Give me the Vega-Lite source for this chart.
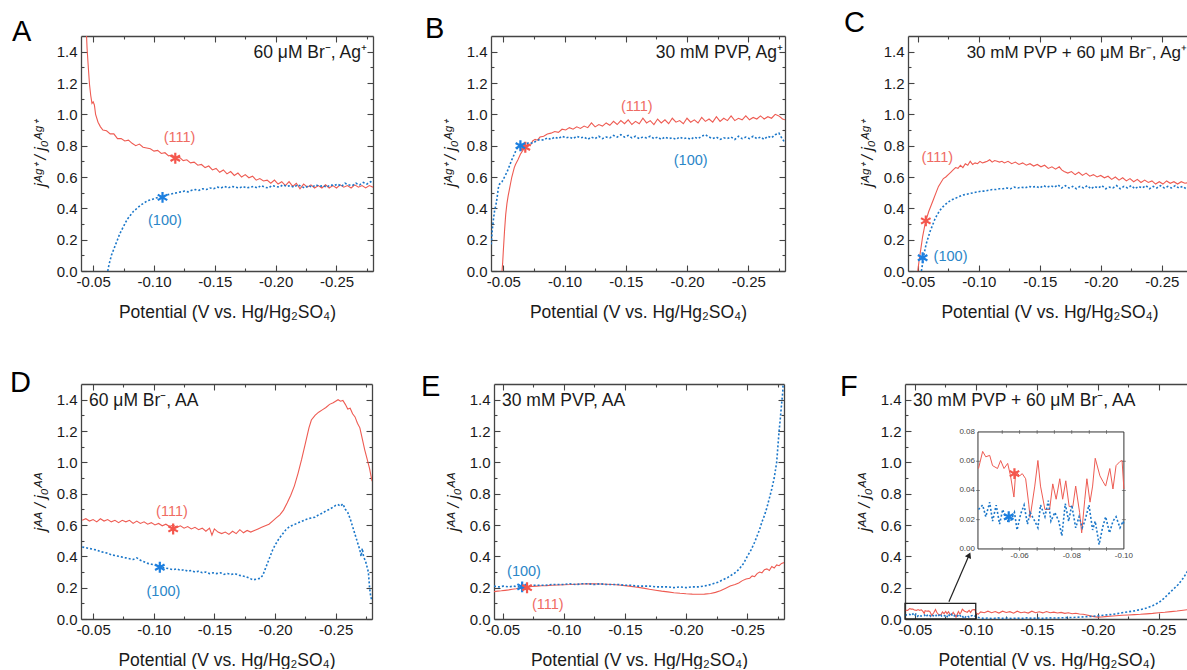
{
"$schema":"https://vega.github.io/schema/vega-lite/v6.json",
"padding":{"left":10,"top":9,"right":0,"bottom":0},
"config":{"font":"Liberation Sans","view":{"stroke":null},
"axis":{"labelFont":"Liberation Sans","titleFont":"Liberation Sans","labelFontSize":15,"titleFontSize":17.5,"titleFontWeight":"normal","domainColor":"#444","domainWidth":1.3,"tickColor":"#444","tickWidth":1.1,"labelColor":"#1a1a1a","titleColor":"#1a1a1a","grid":false},
"axisX":{"labelPadding":9,"titlePadding":14},
"axisY":{"titleFontStyle":"italic","titleFontSize":16,"labelPadding":10,"titlePadding":8},
"title":{"font":"Liberation Sans","fontSize":29,"fontWeight":"normal","anchor":"start","frame":"group","baseline":"alphabetic","color":"#000"},
"text":{"font":"Liberation Sans"}},
"datasets":{
"A":[{"s":"111","x":-0.044,"y":1.6},{"s":"111","x":-0.045,"y":1.42},{"s":"111","x":-0.046,"y":1.3},{"s":"111","x":-0.047,"y":1.19},{"s":"111","x":-0.048,"y":1.12},{"s":"111","x":-0.049,"y":1.07},{"s":"111","x":-0.05,"y":1.08},{"s":"111","x":-0.051,"y":1.06},{"s":"111","x":-0.052,"y":1.0},{"s":"111","x":-0.054,"y":0.95},{"s":"111","x":-0.056,"y":0.92},{"s":"111","x":-0.058,"y":0.9},{"s":"111","x":-0.061,"y":0.895},{"s":"111","x":-0.064,"y":0.875},{"s":"111","x":-0.067,"y":0.875},{"s":"111","x":-0.07,"y":0.845},{"s":"111","x":-0.073,"y":0.845},{"s":"111","x":-0.076,"y":0.83},{"s":"111","x":-0.079,"y":0.835},{"s":"111","x":-0.082,"y":0.815},{"s":"111","x":-0.085,"y":0.8},{"s":"111","x":-0.088,"y":0.81},{"s":"111","x":-0.091,"y":0.79},{"s":"111","x":-0.094,"y":0.785},{"s":"111","x":-0.097,"y":0.78},{"s":"111","x":-0.1,"y":0.765},{"s":"111","x":-0.103,"y":0.77},{"s":"111","x":-0.106,"y":0.75},{"s":"111","x":-0.109,"y":0.755},{"s":"111","x":-0.112,"y":0.735},{"s":"111","x":-0.115,"y":0.74},{"s":"111","x":-0.118,"y":0.72},{"s":"111","x":-0.121,"y":0.725},{"s":"111","x":-0.124,"y":0.705},{"s":"111","x":-0.127,"y":0.71},{"s":"111","x":-0.13,"y":0.69},{"s":"111","x":-0.133,"y":0.695},{"s":"111","x":-0.136,"y":0.675},{"s":"111","x":-0.139,"y":0.68},{"s":"111","x":-0.142,"y":0.66},{"s":"111","x":-0.145,"y":0.67},{"s":"111","x":-0.148,"y":0.645},{"s":"111","x":-0.151,"y":0.655},{"s":"111","x":-0.154,"y":0.63},{"s":"111","x":-0.157,"y":0.645},{"s":"111","x":-0.16,"y":0.62},{"s":"111","x":-0.163,"y":0.635},{"s":"111","x":-0.166,"y":0.61},{"s":"111","x":-0.169,"y":0.625},{"s":"111","x":-0.172,"y":0.6},{"s":"111","x":-0.175,"y":0.615},{"s":"111","x":-0.178,"y":0.595},{"s":"111","x":-0.181,"y":0.605},{"s":"111","x":-0.184,"y":0.58},{"s":"111","x":-0.187,"y":0.59},{"s":"111","x":-0.19,"y":0.575},{"s":"111","x":-0.193,"y":0.58},{"s":"111","x":-0.196,"y":0.56},{"s":"111","x":-0.199,"y":0.58},{"s":"111","x":-0.202,"y":0.555},{"s":"111","x":-0.205,"y":0.57},{"s":"111","x":-0.208,"y":0.545},{"s":"111","x":-0.211,"y":0.57},{"s":"111","x":-0.214,"y":0.54},{"s":"111","x":-0.217,"y":0.56},{"s":"111","x":-0.22,"y":0.525},{"s":"111","x":-0.223,"y":0.555},{"s":"111","x":-0.226,"y":0.535},{"s":"111","x":-0.229,"y":0.55},{"s":"111","x":-0.232,"y":0.53},{"s":"111","x":-0.235,"y":0.545},{"s":"111","x":-0.238,"y":0.53},{"s":"111","x":-0.241,"y":0.55},{"s":"111","x":-0.244,"y":0.53},{"s":"111","x":-0.247,"y":0.545},{"s":"111","x":-0.25,"y":0.53},{"s":"111","x":-0.253,"y":0.55},{"s":"111","x":-0.256,"y":0.535},{"s":"111","x":-0.259,"y":0.545},{"s":"111","x":-0.262,"y":0.53},{"s":"111","x":-0.265,"y":0.55},{"s":"111","x":-0.268,"y":0.535},{"s":"111","x":-0.271,"y":0.545},{"s":"111","x":-0.274,"y":0.53},{"s":"111","x":-0.277,"y":0.545},{"s":"111","x":-0.28,"y":0.535},
{"s":"100","x":-0.062,"y":0.0},{"s":"100","x":-0.063,"y":0.04},{"s":"100","x":-0.064,"y":0.07},{"s":"100","x":-0.065,"y":0.1},{"s":"100","x":-0.066,"y":0.12},{"s":"100","x":-0.067,"y":0.14},{"s":"100","x":-0.068,"y":0.16},{"s":"100","x":-0.07,"y":0.2},{"s":"100","x":-0.072,"y":0.24},{"s":"100","x":-0.074,"y":0.27},{"s":"100","x":-0.076,"y":0.3},{"s":"100","x":-0.078,"y":0.33},{"s":"100","x":-0.08,"y":0.35},{"s":"100","x":-0.083,"y":0.38},{"s":"100","x":-0.086,"y":0.4},{"s":"100","x":-0.089,"y":0.42},{"s":"100","x":-0.092,"y":0.435},{"s":"100","x":-0.095,"y":0.45},{"s":"100","x":-0.098,"y":0.455},{"s":"100","x":-0.101,"y":0.465},{"s":"100","x":-0.104,"y":0.47},{"s":"100","x":-0.107,"y":0.475},{"s":"100","x":-0.11,"y":0.485},{"s":"100","x":-0.113,"y":0.49},{"s":"100","x":-0.116,"y":0.495},{"s":"100","x":-0.119,"y":0.5},{"s":"100","x":-0.122,"y":0.505},{"s":"100","x":-0.125,"y":0.51},{"s":"100","x":-0.128,"y":0.505},{"s":"100","x":-0.131,"y":0.515},{"s":"100","x":-0.134,"y":0.52},{"s":"100","x":-0.137,"y":0.515},{"s":"100","x":-0.14,"y":0.525},{"s":"100","x":-0.143,"y":0.52},{"s":"100","x":-0.146,"y":0.53},{"s":"100","x":-0.149,"y":0.525},{"s":"100","x":-0.152,"y":0.535},{"s":"100","x":-0.155,"y":0.53},{"s":"100","x":-0.158,"y":0.54},{"s":"100","x":-0.161,"y":0.53},{"s":"100","x":-0.164,"y":0.54},{"s":"100","x":-0.167,"y":0.535},{"s":"100","x":-0.17,"y":0.53},{"s":"100","x":-0.173,"y":0.54},{"s":"100","x":-0.176,"y":0.53},{"s":"100","x":-0.179,"y":0.535},{"s":"100","x":-0.182,"y":0.54},{"s":"100","x":-0.185,"y":0.53},{"s":"100","x":-0.188,"y":0.545},{"s":"100","x":-0.191,"y":0.535},{"s":"100","x":-0.194,"y":0.53},{"s":"100","x":-0.197,"y":0.545},{"s":"100","x":-0.2,"y":0.54},{"s":"100","x":-0.203,"y":0.535},{"s":"100","x":-0.206,"y":0.55},{"s":"100","x":-0.209,"y":0.54},{"s":"100","x":-0.212,"y":0.545},{"s":"100","x":-0.215,"y":0.535},{"s":"100","x":-0.218,"y":0.55},{"s":"100","x":-0.221,"y":0.54},{"s":"100","x":-0.224,"y":0.53},{"s":"100","x":-0.227,"y":0.545},{"s":"100","x":-0.23,"y":0.535},{"s":"100","x":-0.233,"y":0.55},{"s":"100","x":-0.236,"y":0.54},{"s":"100","x":-0.239,"y":0.545},{"s":"100","x":-0.242,"y":0.535},{"s":"100","x":-0.245,"y":0.55},{"s":"100","x":-0.248,"y":0.545},{"s":"100","x":-0.251,"y":0.555},{"s":"100","x":-0.254,"y":0.54},{"s":"100","x":-0.257,"y":0.56},{"s":"100","x":-0.26,"y":0.55},{"s":"100","x":-0.263,"y":0.545},{"s":"100","x":-0.266,"y":0.56},{"s":"100","x":-0.269,"y":0.55},{"s":"100","x":-0.272,"y":0.565},{"s":"100","x":-0.275,"y":0.555},{"s":"100","x":-0.278,"y":0.57},{"s":"100","x":-0.28,"y":0.56}],
"B":[{"s":"111","x":-0.049,"y":0.0},{"s":"111","x":-0.0495,"y":0.05},{"s":"111","x":-0.05,"y":0.12},{"s":"111","x":-0.051,"y":0.25},{"s":"111","x":-0.052,"y":0.36},{"s":"111","x":-0.053,"y":0.43},{"s":"111","x":-0.054,"y":0.48},{"s":"111","x":-0.055,"y":0.52},{"s":"111","x":-0.056,"y":0.56},{"s":"111","x":-0.057,"y":0.6},{"s":"111","x":-0.058,"y":0.63},{"s":"111","x":-0.059,"y":0.66},{"s":"111","x":-0.06,"y":0.68},{"s":"111","x":-0.062,"y":0.71},{"s":"111","x":-0.064,"y":0.745},{"s":"111","x":-0.066,"y":0.77},{"s":"111","x":-0.068,"y":0.79},{"s":"111","x":-0.07,"y":0.81},{"s":"111","x":-0.072,"y":0.8},{"s":"111","x":-0.074,"y":0.83},{"s":"111","x":-0.076,"y":0.84},{"s":"111","x":-0.078,"y":0.835},{"s":"111","x":-0.08,"y":0.855},{"s":"111","x":-0.083,"y":0.86},{"s":"111","x":-0.086,"y":0.875},{"s":"111","x":-0.089,"y":0.88},{"s":"111","x":-0.092,"y":0.89},{"s":"111","x":-0.095,"y":0.885},{"s":"111","x":-0.098,"y":0.905},{"s":"111","x":-0.101,"y":0.9},{"s":"111","x":-0.104,"y":0.915},{"s":"111","x":-0.107,"y":0.905},{"s":"111","x":-0.11,"y":0.92},{"s":"111","x":-0.113,"y":0.91},{"s":"111","x":-0.116,"y":0.925},{"s":"111","x":-0.119,"y":0.915},{"s":"111","x":-0.122,"y":0.945},{"s":"111","x":-0.125,"y":0.92},{"s":"111","x":-0.128,"y":0.935},{"s":"111","x":-0.131,"y":0.925},{"s":"111","x":-0.134,"y":0.945},{"s":"111","x":-0.137,"y":0.93},{"s":"111","x":-0.14,"y":0.955},{"s":"111","x":-0.143,"y":0.935},{"s":"111","x":-0.146,"y":0.96},{"s":"111","x":-0.149,"y":0.94},{"s":"111","x":-0.152,"y":0.965},{"s":"111","x":-0.155,"y":0.935},{"s":"111","x":-0.158,"y":0.955},{"s":"111","x":-0.161,"y":0.94},{"s":"111","x":-0.164,"y":0.975},{"s":"111","x":-0.167,"y":0.945},{"s":"111","x":-0.17,"y":0.96},{"s":"111","x":-0.173,"y":0.935},{"s":"111","x":-0.176,"y":0.97},{"s":"111","x":-0.179,"y":0.945},{"s":"111","x":-0.182,"y":0.965},{"s":"111","x":-0.185,"y":0.94},{"s":"111","x":-0.188,"y":0.975},{"s":"111","x":-0.191,"y":0.95},{"s":"111","x":-0.194,"y":0.96},{"s":"111","x":-0.197,"y":0.94},{"s":"111","x":-0.2,"y":0.975},{"s":"111","x":-0.203,"y":0.95},{"s":"111","x":-0.206,"y":0.965},{"s":"111","x":-0.209,"y":0.945},{"s":"111","x":-0.212,"y":0.98},{"s":"111","x":-0.215,"y":0.955},{"s":"111","x":-0.218,"y":0.97},{"s":"111","x":-0.221,"y":0.95},{"s":"111","x":-0.224,"y":0.985},{"s":"111","x":-0.227,"y":0.955},{"s":"111","x":-0.23,"y":0.975},{"s":"111","x":-0.233,"y":0.96},{"s":"111","x":-0.236,"y":0.99},{"s":"111","x":-0.239,"y":0.96},{"s":"111","x":-0.242,"y":0.975},{"s":"111","x":-0.245,"y":0.965},{"s":"111","x":-0.248,"y":0.99},{"s":"111","x":-0.251,"y":0.965},{"s":"111","x":-0.254,"y":0.98},{"s":"111","x":-0.257,"y":0.97},{"s":"111","x":-0.26,"y":0.99},{"s":"111","x":-0.263,"y":0.97},{"s":"111","x":-0.266,"y":0.985},{"s":"111","x":-0.269,"y":0.975},{"s":"111","x":-0.272,"y":1.0},{"s":"111","x":-0.275,"y":0.99},{"s":"111","x":-0.278,"y":0.97},{"s":"111","x":-0.28,"y":0.965},
{"s":"100","x":-0.0402,"y":0.17},{"s":"100","x":-0.041,"y":0.26},{"s":"100","x":-0.042,"y":0.33},{"s":"100","x":-0.043,"y":0.39},{"s":"100","x":-0.044,"y":0.42},{"s":"100","x":-0.045,"y":0.47},{"s":"100","x":-0.046,"y":0.53},{"s":"100","x":-0.047,"y":0.555},{"s":"100","x":-0.049,"y":0.57},{"s":"100","x":-0.051,"y":0.6},{"s":"100","x":-0.053,"y":0.63},{"s":"100","x":-0.055,"y":0.67},{"s":"100","x":-0.057,"y":0.71},{"s":"100","x":-0.059,"y":0.745},{"s":"100","x":-0.061,"y":0.78},{"s":"100","x":-0.063,"y":0.79},{"s":"100","x":-0.065,"y":0.8},{"s":"100","x":-0.068,"y":0.81},{"s":"100","x":-0.071,"y":0.82},{"s":"100","x":-0.074,"y":0.815},{"s":"100","x":-0.077,"y":0.83},{"s":"100","x":-0.08,"y":0.84},{"s":"100","x":-0.083,"y":0.835},{"s":"100","x":-0.086,"y":0.85},{"s":"100","x":-0.089,"y":0.84},{"s":"100","x":-0.092,"y":0.855},{"s":"100","x":-0.095,"y":0.845},{"s":"100","x":-0.098,"y":0.86},{"s":"100","x":-0.101,"y":0.85},{"s":"100","x":-0.104,"y":0.855},{"s":"100","x":-0.107,"y":0.845},{"s":"100","x":-0.11,"y":0.86},{"s":"100","x":-0.113,"y":0.85},{"s":"100","x":-0.116,"y":0.855},{"s":"100","x":-0.119,"y":0.84},{"s":"100","x":-0.122,"y":0.855},{"s":"100","x":-0.125,"y":0.845},{"s":"100","x":-0.128,"y":0.86},{"s":"100","x":-0.131,"y":0.845},{"s":"100","x":-0.134,"y":0.855},{"s":"100","x":-0.137,"y":0.85},{"s":"100","x":-0.14,"y":0.865},{"s":"100","x":-0.143,"y":0.855},{"s":"100","x":-0.146,"y":0.87},{"s":"100","x":-0.149,"y":0.855},{"s":"100","x":-0.152,"y":0.865},{"s":"100","x":-0.155,"y":0.85},{"s":"100","x":-0.158,"y":0.86},{"s":"100","x":-0.161,"y":0.845},{"s":"100","x":-0.164,"y":0.855},{"s":"100","x":-0.167,"y":0.85},{"s":"100","x":-0.17,"y":0.86},{"s":"100","x":-0.173,"y":0.845},{"s":"100","x":-0.176,"y":0.855},{"s":"100","x":-0.179,"y":0.84},{"s":"100","x":-0.182,"y":0.855},{"s":"100","x":-0.185,"y":0.845},{"s":"100","x":-0.188,"y":0.85},{"s":"100","x":-0.191,"y":0.84},{"s":"100","x":-0.194,"y":0.855},{"s":"100","x":-0.197,"y":0.845},{"s":"100","x":-0.2,"y":0.85},{"s":"100","x":-0.203,"y":0.84},{"s":"100","x":-0.206,"y":0.855},{"s":"100","x":-0.209,"y":0.845},{"s":"100","x":-0.212,"y":0.86},{"s":"100","x":-0.215,"y":0.87},{"s":"100","x":-0.218,"y":0.855},{"s":"100","x":-0.221,"y":0.845},{"s":"100","x":-0.224,"y":0.855},{"s":"100","x":-0.227,"y":0.84},{"s":"100","x":-0.23,"y":0.85},{"s":"100","x":-0.233,"y":0.845},{"s":"100","x":-0.236,"y":0.855},{"s":"100","x":-0.239,"y":0.84},{"s":"100","x":-0.242,"y":0.86},{"s":"100","x":-0.245,"y":0.845},{"s":"100","x":-0.248,"y":0.855},{"s":"100","x":-0.251,"y":0.845},{"s":"100","x":-0.254,"y":0.86},{"s":"100","x":-0.257,"y":0.845},{"s":"100","x":-0.26,"y":0.855},{"s":"100","x":-0.263,"y":0.84},{"s":"100","x":-0.266,"y":0.86},{"s":"100","x":-0.269,"y":0.85},{"s":"100","x":-0.272,"y":0.87},{"s":"100","x":-0.275,"y":0.88},{"s":"100","x":-0.278,"y":0.84},{"s":"100","x":-0.28,"y":0.82}],
"C":[{"s":"111","x":-0.05,"y":0.0},{"s":"111","x":-0.051,"y":0.06},{"s":"111","x":-0.0525,"y":0.14},{"s":"111","x":-0.054,"y":0.22},{"s":"111","x":-0.0555,"y":0.28},{"s":"111","x":-0.057,"y":0.33},{"s":"111","x":-0.059,"y":0.38},{"s":"111","x":-0.061,"y":0.42},{"s":"111","x":-0.063,"y":0.46},{"s":"111","x":-0.065,"y":0.5},{"s":"111","x":-0.067,"y":0.54},{"s":"111","x":-0.069,"y":0.565},{"s":"111","x":-0.071,"y":0.59},{"s":"111","x":-0.073,"y":0.6},{"s":"111","x":-0.075,"y":0.615},{"s":"111","x":-0.077,"y":0.63},{"s":"111","x":-0.079,"y":0.645},{"s":"111","x":-0.081,"y":0.66},{"s":"111","x":-0.083,"y":0.655},{"s":"111","x":-0.085,"y":0.675},{"s":"111","x":-0.087,"y":0.66},{"s":"111","x":-0.089,"y":0.685},{"s":"111","x":-0.091,"y":0.675},{"s":"111","x":-0.093,"y":0.7},{"s":"111","x":-0.095,"y":0.68},{"s":"111","x":-0.097,"y":0.69},{"s":"111","x":-0.099,"y":0.685},{"s":"111","x":-0.101,"y":0.7},{"s":"111","x":-0.103,"y":0.69},{"s":"111","x":-0.105,"y":0.695},{"s":"111","x":-0.107,"y":0.7},{"s":"111","x":-0.109,"y":0.71},{"s":"111","x":-0.111,"y":0.695},{"s":"111","x":-0.113,"y":0.705},{"s":"111","x":-0.115,"y":0.7},{"s":"111","x":-0.117,"y":0.695},{"s":"111","x":-0.119,"y":0.7},{"s":"111","x":-0.121,"y":0.69},{"s":"111","x":-0.124,"y":0.7},{"s":"111","x":-0.127,"y":0.685},{"s":"111","x":-0.13,"y":0.695},{"s":"111","x":-0.133,"y":0.68},{"s":"111","x":-0.136,"y":0.69},{"s":"111","x":-0.139,"y":0.675},{"s":"111","x":-0.142,"y":0.685},{"s":"111","x":-0.145,"y":0.67},{"s":"111","x":-0.148,"y":0.68},{"s":"111","x":-0.151,"y":0.665},{"s":"111","x":-0.154,"y":0.675},{"s":"111","x":-0.157,"y":0.655},{"s":"111","x":-0.16,"y":0.665},{"s":"111","x":-0.163,"y":0.65},{"s":"111","x":-0.166,"y":0.665},{"s":"111","x":-0.168,"y":0.645},{"s":"111","x":-0.17,"y":0.635},{"s":"111","x":-0.173,"y":0.625},{"s":"111","x":-0.176,"y":0.635},{"s":"111","x":-0.179,"y":0.615},{"s":"111","x":-0.182,"y":0.63},{"s":"111","x":-0.185,"y":0.61},{"s":"111","x":-0.188,"y":0.625},{"s":"111","x":-0.191,"y":0.605},{"s":"111","x":-0.194,"y":0.615},{"s":"111","x":-0.197,"y":0.6},{"s":"111","x":-0.2,"y":0.61},{"s":"111","x":-0.203,"y":0.595},{"s":"111","x":-0.206,"y":0.605},{"s":"111","x":-0.209,"y":0.585},{"s":"111","x":-0.212,"y":0.6},{"s":"111","x":-0.215,"y":0.58},{"s":"111","x":-0.218,"y":0.595},{"s":"111","x":-0.221,"y":0.575},{"s":"111","x":-0.224,"y":0.59},{"s":"111","x":-0.227,"y":0.57},{"s":"111","x":-0.23,"y":0.585},{"s":"111","x":-0.233,"y":0.565},{"s":"111","x":-0.236,"y":0.58},{"s":"111","x":-0.239,"y":0.565},{"s":"111","x":-0.242,"y":0.575},{"s":"111","x":-0.245,"y":0.555},{"s":"111","x":-0.248,"y":0.57},{"s":"111","x":-0.251,"y":0.555},{"s":"111","x":-0.254,"y":0.575},{"s":"111","x":-0.257,"y":0.56},{"s":"111","x":-0.26,"y":0.57},{"s":"111","x":-0.263,"y":0.555},{"s":"111","x":-0.266,"y":0.57},{"s":"111","x":-0.269,"y":0.56},{"s":"111","x":-0.272,"y":0.565},{"s":"111","x":-0.274,"y":0.56},
{"s":"100","x":-0.053,"y":0.0},{"s":"100","x":-0.054,"y":0.05},{"s":"100","x":-0.055,"y":0.1},{"s":"100","x":-0.056,"y":0.14},{"s":"100","x":-0.057,"y":0.175},{"s":"100","x":-0.058,"y":0.2},{"s":"100","x":-0.06,"y":0.25},{"s":"100","x":-0.062,"y":0.29},{"s":"100","x":-0.064,"y":0.33},{"s":"100","x":-0.066,"y":0.36},{"s":"100","x":-0.068,"y":0.385},{"s":"100","x":-0.07,"y":0.405},{"s":"100","x":-0.072,"y":0.42},{"s":"100","x":-0.075,"y":0.44},{"s":"100","x":-0.078,"y":0.455},{"s":"100","x":-0.081,"y":0.465},{"s":"100","x":-0.084,"y":0.475},{"s":"100","x":-0.087,"y":0.485},{"s":"100","x":-0.09,"y":0.49},{"s":"100","x":-0.093,"y":0.495},{"s":"100","x":-0.096,"y":0.5},{"s":"100","x":-0.099,"y":0.505},{"s":"100","x":-0.102,"y":0.51},{"s":"100","x":-0.105,"y":0.51},{"s":"100","x":-0.108,"y":0.515},{"s":"100","x":-0.111,"y":0.52},{"s":"100","x":-0.114,"y":0.52},{"s":"100","x":-0.117,"y":0.525},{"s":"100","x":-0.12,"y":0.525},{"s":"100","x":-0.123,"y":0.53},{"s":"100","x":-0.126,"y":0.525},{"s":"100","x":-0.129,"y":0.535},{"s":"100","x":-0.132,"y":0.53},{"s":"100","x":-0.135,"y":0.535},{"s":"100","x":-0.138,"y":0.53},{"s":"100","x":-0.141,"y":0.54},{"s":"100","x":-0.144,"y":0.535},{"s":"100","x":-0.147,"y":0.54},{"s":"100","x":-0.15,"y":0.53},{"s":"100","x":-0.153,"y":0.545},{"s":"100","x":-0.156,"y":0.535},{"s":"100","x":-0.159,"y":0.545},{"s":"100","x":-0.162,"y":0.535},{"s":"100","x":-0.165,"y":0.55},{"s":"100","x":-0.168,"y":0.53},{"s":"100","x":-0.171,"y":0.545},{"s":"100","x":-0.174,"y":0.53},{"s":"100","x":-0.177,"y":0.54},{"s":"100","x":-0.18,"y":0.525},{"s":"100","x":-0.183,"y":0.54},{"s":"100","x":-0.186,"y":0.53},{"s":"100","x":-0.189,"y":0.545},{"s":"100","x":-0.192,"y":0.525},{"s":"100","x":-0.195,"y":0.54},{"s":"100","x":-0.198,"y":0.53},{"s":"100","x":-0.201,"y":0.545},{"s":"100","x":-0.204,"y":0.525},{"s":"100","x":-0.207,"y":0.535},{"s":"100","x":-0.21,"y":0.53},{"s":"100","x":-0.213,"y":0.545},{"s":"100","x":-0.216,"y":0.525},{"s":"100","x":-0.219,"y":0.54},{"s":"100","x":-0.222,"y":0.53},{"s":"100","x":-0.225,"y":0.545},{"s":"100","x":-0.228,"y":0.525},{"s":"100","x":-0.231,"y":0.54},{"s":"100","x":-0.234,"y":0.53},{"s":"100","x":-0.237,"y":0.545},{"s":"100","x":-0.24,"y":0.525},{"s":"100","x":-0.243,"y":0.54},{"s":"100","x":-0.246,"y":0.53},{"s":"100","x":-0.249,"y":0.545},{"s":"100","x":-0.252,"y":0.53},{"s":"100","x":-0.255,"y":0.54},{"s":"100","x":-0.258,"y":0.53},{"s":"100","x":-0.261,"y":0.545},{"s":"100","x":-0.264,"y":0.53},{"s":"100","x":-0.267,"y":0.54},{"s":"100","x":-0.27,"y":0.525},{"s":"100","x":-0.274,"y":0.535}],
"D":[{"s":"111","x":-0.041,"y":0.63},{"s":"111","x":-0.044,"y":0.64},{"s":"111","x":-0.047,"y":0.625},{"s":"111","x":-0.05,"y":0.635},{"s":"111","x":-0.053,"y":0.62},{"s":"111","x":-0.056,"y":0.64},{"s":"111","x":-0.059,"y":0.625},{"s":"111","x":-0.062,"y":0.635},{"s":"111","x":-0.065,"y":0.62},{"s":"111","x":-0.068,"y":0.63},{"s":"111","x":-0.071,"y":0.615},{"s":"111","x":-0.074,"y":0.63},{"s":"111","x":-0.077,"y":0.62},{"s":"111","x":-0.08,"y":0.63},{"s":"111","x":-0.083,"y":0.61},{"s":"111","x":-0.086,"y":0.625},{"s":"111","x":-0.089,"y":0.61},{"s":"111","x":-0.092,"y":0.62},{"s":"111","x":-0.095,"y":0.605},{"s":"111","x":-0.098,"y":0.615},{"s":"111","x":-0.101,"y":0.6},{"s":"111","x":-0.104,"y":0.61},{"s":"111","x":-0.107,"y":0.595},{"s":"111","x":-0.11,"y":0.605},{"s":"111","x":-0.113,"y":0.59},{"s":"111","x":-0.116,"y":0.6},{"s":"111","x":-0.119,"y":0.585},{"s":"111","x":-0.122,"y":0.595},{"s":"111","x":-0.125,"y":0.58},{"s":"111","x":-0.128,"y":0.59},{"s":"111","x":-0.131,"y":0.575},{"s":"111","x":-0.134,"y":0.585},{"s":"111","x":-0.137,"y":0.57},{"s":"111","x":-0.14,"y":0.58},{"s":"111","x":-0.143,"y":0.56},{"s":"111","x":-0.146,"y":0.58},{"s":"111","x":-0.148,"y":0.535},{"s":"111","x":-0.15,"y":0.575},{"s":"111","x":-0.153,"y":0.555},{"s":"111","x":-0.156,"y":0.545},{"s":"111","x":-0.159,"y":0.555},{"s":"111","x":-0.162,"y":0.54},{"s":"111","x":-0.165,"y":0.56},{"s":"111","x":-0.168,"y":0.545},{"s":"111","x":-0.171,"y":0.57},{"s":"111","x":-0.174,"y":0.55},{"s":"111","x":-0.177,"y":0.565},{"s":"111","x":-0.18,"y":0.555},{"s":"111","x":-0.183,"y":0.565},{"s":"111","x":-0.186,"y":0.575},{"s":"111","x":-0.189,"y":0.585},{"s":"111","x":-0.192,"y":0.595},{"s":"111","x":-0.195,"y":0.605},{"s":"111","x":-0.198,"y":0.625},{"s":"111","x":-0.201,"y":0.645},{"s":"111","x":-0.204,"y":0.665},{"s":"111","x":-0.207,"y":0.695},{"s":"111","x":-0.21,"y":0.74},{"s":"111","x":-0.213,"y":0.79},{"s":"111","x":-0.216,"y":0.85},{"s":"111","x":-0.219,"y":0.93},{"s":"111","x":-0.222,"y":1.02},{"s":"111","x":-0.225,"y":1.12},{"s":"111","x":-0.228,"y":1.22},{"s":"111","x":-0.23,"y":1.27},{"s":"111","x":-0.233,"y":1.3},{"s":"111","x":-0.236,"y":1.32},{"s":"111","x":-0.239,"y":1.335},{"s":"111","x":-0.242,"y":1.35},{"s":"111","x":-0.245,"y":1.37},{"s":"111","x":-0.248,"y":1.38},{"s":"111","x":-0.25,"y":1.39},{"s":"111","x":-0.252,"y":1.4},{"s":"111","x":-0.254,"y":1.39},{"s":"111","x":-0.256,"y":1.395},{"s":"111","x":-0.258,"y":1.37},{"s":"111","x":-0.26,"y":1.34},{"s":"111","x":-0.262,"y":1.345},{"s":"111","x":-0.264,"y":1.31},{"s":"111","x":-0.266,"y":1.29},{"s":"111","x":-0.268,"y":1.25},{"s":"111","x":-0.27,"y":1.22},{"s":"111","x":-0.272,"y":1.15},{"s":"111","x":-0.274,"y":1.08},{"s":"111","x":-0.276,"y":1.02},{"s":"111","x":-0.278,"y":0.96},{"s":"111","x":-0.28,"y":0.88},
{"s":"100","x":-0.041,"y":0.46},{"s":"100","x":-0.044,"y":0.455},{"s":"100","x":-0.047,"y":0.45},{"s":"100","x":-0.05,"y":0.445},{"s":"100","x":-0.053,"y":0.44},{"s":"100","x":-0.056,"y":0.43},{"s":"100","x":-0.059,"y":0.425},{"s":"100","x":-0.062,"y":0.42},{"s":"100","x":-0.065,"y":0.41},{"s":"100","x":-0.068,"y":0.405},{"s":"100","x":-0.071,"y":0.4},{"s":"100","x":-0.074,"y":0.395},{"s":"100","x":-0.077,"y":0.39},{"s":"100","x":-0.08,"y":0.385},{"s":"100","x":-0.083,"y":0.38},{"s":"100","x":-0.086,"y":0.39},{"s":"100","x":-0.089,"y":0.375},{"s":"100","x":-0.092,"y":0.365},{"s":"100","x":-0.095,"y":0.355},{"s":"100","x":-0.098,"y":0.35},{"s":"100","x":-0.101,"y":0.345},{"s":"100","x":-0.104,"y":0.335},{"s":"100","x":-0.107,"y":0.33},{"s":"100","x":-0.11,"y":0.325},{"s":"100","x":-0.113,"y":0.32},{"s":"100","x":-0.116,"y":0.315},{"s":"100","x":-0.119,"y":0.32},{"s":"100","x":-0.122,"y":0.31},{"s":"100","x":-0.125,"y":0.315},{"s":"100","x":-0.128,"y":0.305},{"s":"100","x":-0.131,"y":0.31},{"s":"100","x":-0.134,"y":0.3},{"s":"100","x":-0.137,"y":0.305},{"s":"100","x":-0.14,"y":0.295},{"s":"100","x":-0.143,"y":0.3},{"s":"100","x":-0.146,"y":0.29},{"s":"100","x":-0.149,"y":0.295},{"s":"100","x":-0.152,"y":0.29},{"s":"100","x":-0.155,"y":0.295},{"s":"100","x":-0.158,"y":0.285},{"s":"100","x":-0.161,"y":0.29},{"s":"100","x":-0.164,"y":0.285},{"s":"100","x":-0.167,"y":0.29},{"s":"100","x":-0.17,"y":0.28},{"s":"100","x":-0.173,"y":0.275},{"s":"100","x":-0.176,"y":0.27},{"s":"100","x":-0.179,"y":0.26},{"s":"100","x":-0.182,"y":0.25},{"s":"100","x":-0.185,"y":0.255},{"s":"100","x":-0.188,"y":0.26},{"s":"100","x":-0.19,"y":0.28},{"s":"100","x":-0.192,"y":0.32},{"s":"100","x":-0.194,"y":0.36},{"s":"100","x":-0.196,"y":0.4},{"s":"100","x":-0.198,"y":0.44},{"s":"100","x":-0.2,"y":0.47},{"s":"100","x":-0.203,"y":0.51},{"s":"100","x":-0.206,"y":0.54},{"s":"100","x":-0.209,"y":0.57},{"s":"100","x":-0.212,"y":0.59},{"s":"100","x":-0.215,"y":0.6},{"s":"100","x":-0.218,"y":0.61},{"s":"100","x":-0.221,"y":0.62},{"s":"100","x":-0.224,"y":0.63},{"s":"100","x":-0.227,"y":0.64},{"s":"100","x":-0.23,"y":0.645},{"s":"100","x":-0.233,"y":0.65},{"s":"100","x":-0.236,"y":0.665},{"s":"100","x":-0.239,"y":0.675},{"s":"100","x":-0.242,"y":0.69},{"s":"100","x":-0.245,"y":0.7},{"s":"100","x":-0.248,"y":0.715},{"s":"100","x":-0.25,"y":0.725},{"s":"100","x":-0.252,"y":0.73},{"s":"100","x":-0.254,"y":0.72},{"s":"100","x":-0.256,"y":0.735},{"s":"100","x":-0.258,"y":0.7},{"s":"100","x":-0.26,"y":0.68},{"s":"100","x":-0.262,"y":0.64},{"s":"100","x":-0.264,"y":0.59},{"s":"100","x":-0.266,"y":0.54},{"s":"100","x":-0.268,"y":0.49},{"s":"100","x":-0.27,"y":0.44},{"s":"100","x":-0.271,"y":0.4},{"s":"100","x":-0.272,"y":0.45},{"s":"100","x":-0.273,"y":0.4},{"s":"100","x":-0.275,"y":0.36},{"s":"100","x":-0.277,"y":0.3},{"s":"100","x":-0.278,"y":0.2},{"s":"100","x":-0.279,"y":0.14},{"s":"100","x":-0.28,"y":0.12}],
"E":[{"s":"111","x":-0.043,"y":0.175},{"s":"111","x":-0.046,"y":0.178},{"s":"111","x":-0.049,"y":0.18},{"s":"111","x":-0.052,"y":0.183},{"s":"111","x":-0.055,"y":0.186},{"s":"111","x":-0.058,"y":0.19},{"s":"111","x":-0.061,"y":0.193},{"s":"111","x":-0.064,"y":0.197},{"s":"111","x":-0.067,"y":0.2},{"s":"111","x":-0.07,"y":0.203},{"s":"111","x":-0.074,"y":0.207},{"s":"111","x":-0.078,"y":0.21},{"s":"111","x":-0.082,"y":0.212},{"s":"111","x":-0.086,"y":0.213},{"s":"111","x":-0.09,"y":0.215},{"s":"111","x":-0.095,"y":0.217},{"s":"111","x":-0.1,"y":0.219},{"s":"111","x":-0.105,"y":0.22},{"s":"111","x":-0.11,"y":0.222},{"s":"111","x":-0.115,"y":0.223},{"s":"111","x":-0.12,"y":0.224},{"s":"111","x":-0.125,"y":0.224},{"s":"111","x":-0.13,"y":0.223},{"s":"111","x":-0.135,"y":0.222},{"s":"111","x":-0.14,"y":0.22},{"s":"111","x":-0.145,"y":0.217},{"s":"111","x":-0.15,"y":0.213},{"s":"111","x":-0.155,"y":0.208},{"s":"111","x":-0.16,"y":0.203},{"s":"111","x":-0.165,"y":0.197},{"s":"111","x":-0.17,"y":0.19},{"s":"111","x":-0.175,"y":0.184},{"s":"111","x":-0.18,"y":0.178},{"s":"111","x":-0.185,"y":0.173},{"s":"111","x":-0.19,"y":0.168},{"s":"111","x":-0.195,"y":0.164},{"s":"111","x":-0.2,"y":0.161},{"s":"111","x":-0.205,"y":0.159},{"s":"111","x":-0.21,"y":0.158},{"s":"111","x":-0.215,"y":0.159},{"s":"111","x":-0.22,"y":0.163},{"s":"111","x":-0.224,"y":0.17},{"s":"111","x":-0.228,"y":0.18},{"s":"111","x":-0.232,"y":0.195},{"s":"111","x":-0.236,"y":0.21},{"s":"111","x":-0.24,"y":0.22},{"s":"111","x":-0.243,"y":0.23},{"s":"111","x":-0.246,"y":0.245},{"s":"111","x":-0.249,"y":0.255},{"s":"111","x":-0.252,"y":0.26},{"s":"111","x":-0.254,"y":0.275},{"s":"111","x":-0.256,"y":0.27},{"s":"111","x":-0.258,"y":0.29},{"s":"111","x":-0.26,"y":0.3},{"s":"111","x":-0.262,"y":0.295},{"s":"111","x":-0.264,"y":0.315},{"s":"111","x":-0.266,"y":0.32},{"s":"111","x":-0.268,"y":0.31},{"s":"111","x":-0.27,"y":0.335},{"s":"111","x":-0.272,"y":0.325},{"s":"111","x":-0.274,"y":0.345},{"s":"111","x":-0.276,"y":0.34},{"s":"111","x":-0.278,"y":0.355},{"s":"111","x":-0.28,"y":0.36},
{"s":"100","x":-0.043,"y":0.21},{"s":"100","x":-0.047,"y":0.205},{"s":"100","x":-0.051,"y":0.21},{"s":"100","x":-0.055,"y":0.205},{"s":"100","x":-0.059,"y":0.21},{"s":"100","x":-0.063,"y":0.205},{"s":"100","x":-0.067,"y":0.21},{"s":"100","x":-0.071,"y":0.21},{"s":"100","x":-0.075,"y":0.215},{"s":"100","x":-0.08,"y":0.215},{"s":"100","x":-0.085,"y":0.215},{"s":"100","x":-0.09,"y":0.22},{"s":"100","x":-0.095,"y":0.22},{"s":"100","x":-0.1,"y":0.22},{"s":"100","x":-0.105,"y":0.225},{"s":"100","x":-0.11,"y":0.22},{"s":"100","x":-0.115,"y":0.225},{"s":"100","x":-0.12,"y":0.225},{"s":"100","x":-0.125,"y":0.22},{"s":"100","x":-0.13,"y":0.225},{"s":"100","x":-0.135,"y":0.22},{"s":"100","x":-0.14,"y":0.22},{"s":"100","x":-0.145,"y":0.22},{"s":"100","x":-0.15,"y":0.215},{"s":"100","x":-0.155,"y":0.215},{"s":"100","x":-0.16,"y":0.21},{"s":"100","x":-0.165,"y":0.21},{"s":"100","x":-0.17,"y":0.21},{"s":"100","x":-0.175,"y":0.205},{"s":"100","x":-0.18,"y":0.205},{"s":"100","x":-0.185,"y":0.205},{"s":"100","x":-0.19,"y":0.2},{"s":"100","x":-0.195,"y":0.205},{"s":"100","x":-0.2,"y":0.2},{"s":"100","x":-0.205,"y":0.205},{"s":"100","x":-0.21,"y":0.205},{"s":"100","x":-0.214,"y":0.21},{"s":"100","x":-0.218,"y":0.215},{"s":"100","x":-0.222,"y":0.225},{"s":"100","x":-0.226,"y":0.235},{"s":"100","x":-0.23,"y":0.25},{"s":"100","x":-0.234,"y":0.265},{"s":"100","x":-0.238,"y":0.285},{"s":"100","x":-0.241,"y":0.3},{"s":"100","x":-0.244,"y":0.325},{"s":"100","x":-0.247,"y":0.355},{"s":"100","x":-0.25,"y":0.4},{"s":"100","x":-0.253,"y":0.44},{"s":"100","x":-0.256,"y":0.49},{"s":"100","x":-0.258,"y":0.53},{"s":"100","x":-0.26,"y":0.57},{"s":"100","x":-0.262,"y":0.62},{"s":"100","x":-0.264,"y":0.66},{"s":"100","x":-0.266,"y":0.71},{"s":"100","x":-0.268,"y":0.77},{"s":"100","x":-0.27,"y":0.83},{"s":"100","x":-0.272,"y":0.9},{"s":"100","x":-0.273,"y":0.95},{"s":"100","x":-0.274,"y":1.0},{"s":"100","x":-0.275,"y":1.1},{"s":"100","x":-0.276,"y":1.2},{"s":"100","x":-0.277,"y":1.28},{"s":"100","x":-0.278,"y":1.37},{"s":"100","x":-0.279,"y":1.45},{"s":"100","x":-0.2795,"y":1.55}],
"F":[{"s":"111","x":-0.042,"y":0.056},{"s":"111","x":-0.0442,"y":0.055},{"s":"111","x":-0.0458,"y":0.0667},{"s":"111","x":-0.047,"y":0.063},{"s":"111","x":-0.0485,"y":0.064},{"s":"111","x":-0.0496,"y":0.057},{"s":"111","x":-0.0515,"y":0.055},{"s":"111","x":-0.0527,"y":0.0605},{"s":"111","x":-0.054,"y":0.055},{"s":"111","x":-0.0554,"y":0.0585},{"s":"111","x":-0.0565,"y":0.05},{"s":"111","x":-0.0578,"y":0.0355},{"s":"111","x":-0.0585,"y":0.053},{"s":"111","x":-0.06,"y":0.05},{"s":"111","x":-0.061,"y":0.0515},{"s":"111","x":-0.0623,"y":0.048},{"s":"111","x":-0.0635,"y":0.0306},{"s":"111","x":-0.064,"y":0.0215},{"s":"111","x":-0.0658,"y":0.043},{"s":"111","x":-0.067,"y":0.0605},{"s":"111","x":-0.068,"y":0.043},{"s":"111","x":-0.0697,"y":0.027},{"s":"111","x":-0.0715,"y":0.027},{"s":"111","x":-0.0727,"y":0.0445},{"s":"111","x":-0.074,"y":0.034},{"s":"111","x":-0.0754,"y":0.048},{"s":"111","x":-0.0765,"y":0.034},{"s":"111","x":-0.0777,"y":0.0466},{"s":"111","x":-0.079,"y":0.029},{"s":"111","x":-0.0804,"y":0.029},{"s":"111","x":-0.0815,"y":0.043},{"s":"111","x":-0.083,"y":0.025},{"s":"111","x":-0.0838,"y":0.011},{"s":"111","x":-0.085,"y":0.034},{"s":"111","x":-0.0858,"y":0.048},{"s":"111","x":-0.087,"y":0.032},{"s":"111","x":-0.088,"y":0.043},{"s":"111","x":-0.089,"y":0.062},{"s":"111","x":-0.0908,"y":0.05},{"s":"111","x":-0.092,"y":0.046},{"s":"111","x":-0.093,"y":0.043},{"s":"111","x":-0.0946,"y":0.055},{"s":"111","x":-0.0958,"y":0.041},{"s":"111","x":-0.097,"y":0.057},{"s":"111","x":-0.0985,"y":0.0598},{"s":"111","x":-0.0993,"y":0.0605},{"s":"111","x":-0.1,"y":0.041},{"s":"111","x":-0.102,"y":0.03},{"s":"111","x":-0.104,"y":0.045},{"s":"111","x":-0.107,"y":0.04},{"s":"111","x":-0.11,"y":0.05},{"s":"111","x":-0.113,"y":0.04},{"s":"111","x":-0.116,"y":0.048},{"s":"111","x":-0.119,"y":0.038},{"s":"111","x":-0.122,"y":0.05},{"s":"111","x":-0.125,"y":0.042},{"s":"111","x":-0.128,"y":0.047},{"s":"111","x":-0.131,"y":0.037},{"s":"111","x":-0.134,"y":0.05},{"s":"111","x":-0.137,"y":0.04},{"s":"111","x":-0.14,"y":0.045},{"s":"111","x":-0.143,"y":0.038},{"s":"111","x":-0.146,"y":0.05},{"s":"111","x":-0.149,"y":0.04},{"s":"111","x":-0.152,"y":0.046},{"s":"111","x":-0.155,"y":0.039},{"s":"111","x":-0.158,"y":0.048},{"s":"111","x":-0.161,"y":0.04},{"s":"111","x":-0.164,"y":0.044},{"s":"111","x":-0.167,"y":0.038},{"s":"111","x":-0.17,"y":0.042},{"s":"111","x":-0.173,"y":0.036},{"s":"111","x":-0.176,"y":0.04},{"s":"111","x":-0.179,"y":0.034},{"s":"111","x":-0.182,"y":0.037},{"s":"111","x":-0.185,"y":0.032},{"s":"111","x":-0.188,"y":0.03},{"s":"111","x":-0.191,"y":0.026},{"s":"111","x":-0.194,"y":0.02},{"s":"111","x":-0.197,"y":0.015},{"s":"111","x":-0.2,"y":0.012},{"s":"111","x":-0.203,"y":0.013},{"s":"111","x":-0.206,"y":0.015},{"s":"111","x":-0.21,"y":0.018},{"s":"111","x":-0.215,"y":0.021},{"s":"111","x":-0.22,"y":0.024},{"s":"111","x":-0.225,"y":0.026},{"s":"111","x":-0.23,"y":0.028},{"s":"111","x":-0.235,"y":0.03},{"s":"111","x":-0.24,"y":0.033},{"s":"111","x":-0.245,"y":0.036},{"s":"111","x":-0.25,"y":0.04},{"s":"111","x":-0.255,"y":0.043},{"s":"111","x":-0.26,"y":0.047},{"s":"111","x":-0.265,"y":0.051},{"s":"111","x":-0.27,"y":0.056},{"s":"111","x":-0.274,"y":0.06},
{"s":"100","x":-0.042,"y":0.025},{"s":"100","x":-0.0442,"y":0.027},{"s":"100","x":-0.0458,"y":0.03},{"s":"100","x":-0.047,"y":0.022},{"s":"100","x":-0.0485,"y":0.032},{"s":"100","x":-0.0496,"y":0.019},{"s":"100","x":-0.051,"y":0.03},{"s":"100","x":-0.0523,"y":0.017},{"s":"100","x":-0.0535,"y":0.027},{"s":"100","x":-0.055,"y":0.019},{"s":"100","x":-0.0565,"y":0.019},{"s":"100","x":-0.058,"y":0.025},{"s":"100","x":-0.059,"y":0.013},{"s":"100","x":-0.0604,"y":0.024},{"s":"100","x":-0.0617,"y":0.03},{"s":"100","x":-0.063,"y":0.017},{"s":"100","x":-0.064,"y":0.025},{"s":"100","x":-0.0658,"y":0.019},{"s":"100","x":-0.067,"y":0.0145},{"s":"100","x":-0.068,"y":0.03},{"s":"100","x":-0.0697,"y":0.022},{"s":"100","x":-0.071,"y":0.033},{"s":"100","x":-0.072,"y":0.019},{"s":"100","x":-0.0735,"y":0.025},{"s":"100","x":-0.075,"y":0.019},{"s":"100","x":-0.0762,"y":0.009},{"s":"100","x":-0.0775,"y":0.031},{"s":"100","x":-0.0788,"y":0.019},{"s":"100","x":-0.08,"y":0.03},{"s":"100","x":-0.0815,"y":0.0145},{"s":"100","x":-0.0828,"y":0.022},{"s":"100","x":-0.084,"y":0.0145},{"s":"100","x":-0.085,"y":0.019},{"s":"100","x":-0.0866,"y":0.03},{"s":"100","x":-0.088,"y":0.013},{"s":"100","x":-0.089,"y":0.019},{"s":"100","x":-0.0905,"y":0.003},{"s":"100","x":-0.0918,"y":0.0145},{"s":"100","x":-0.093,"y":0.022},{"s":"100","x":-0.0945,"y":0.011},{"s":"100","x":-0.0958,"y":0.019},{"s":"100","x":-0.097,"y":0.022},{"s":"100","x":-0.0985,"y":0.0145},{"s":"100","x":-0.0997,"y":0.019},{"s":"100","x":-0.1,"y":0.017},{"s":"100","x":-0.103,"y":0.008},{"s":"100","x":-0.106,"y":0.004},{"s":"100","x":-0.11,"y":0.006},{"s":"100","x":-0.114,"y":0.003},{"s":"100","x":-0.118,"y":0.007},{"s":"100","x":-0.122,"y":0.004},{"s":"100","x":-0.126,"y":0.006},{"s":"100","x":-0.13,"y":0.003},{"s":"100","x":-0.134,"y":0.006},{"s":"100","x":-0.138,"y":0.004},{"s":"100","x":-0.142,"y":0.007},{"s":"100","x":-0.146,"y":0.004},{"s":"100","x":-0.15,"y":0.006},{"s":"100","x":-0.155,"y":0.005},{"s":"100","x":-0.16,"y":0.007},{"s":"100","x":-0.165,"y":0.006},{"s":"100","x":-0.17,"y":0.008},{"s":"100","x":-0.175,"y":0.009},{"s":"100","x":-0.18,"y":0.01},{"s":"100","x":-0.185,"y":0.012},{"s":"100","x":-0.19,"y":0.014},{"s":"100","x":-0.195,"y":0.017},{"s":"100","x":-0.2,"y":0.02},{"s":"100","x":-0.205,"y":0.024},{"s":"100","x":-0.21,"y":0.028},{"s":"100","x":-0.215,"y":0.033},{"s":"100","x":-0.22,"y":0.04},{"s":"100","x":-0.225,"y":0.046},{"s":"100","x":-0.23,"y":0.052},{"s":"100","x":-0.235,"y":0.06},{"s":"100","x":-0.24,"y":0.07},{"s":"100","x":-0.245,"y":0.085},{"s":"100","x":-0.25,"y":0.105},{"s":"100","x":-0.254,"y":0.13},{"s":"100","x":-0.258,"y":0.16},{"s":"100","x":-0.262,"y":0.19},{"s":"100","x":-0.266,"y":0.22},{"s":"100","x":-0.27,"y":0.26},{"s":"100","x":-0.274,"y":0.31}]
},
"spacing":48,
"vconcat":[
{"spacing":51,"hconcat":[
{"width":292,"height":235,"title":{"text":"A","dx":-69,"offset":-12},
"resolve":{"axis":{"x":"independent","y":"independent"}},
"layer":[
{"data":{"name":"A"},"transform":[{"filter":"datum.s=='111'"}],"mark":{"type":"line","color":"#ee5b52","strokeWidth":1.1,"clip":true},
"encoding":{"x":{"field":"x","type":"quantitative","scale":{"domain":[-0.28,-0.04],"reverse":true,"nice":false,"zero":false},"axis":{"orient":"bottom","values":[-0.05,-0.075,-0.1,-0.125,-0.15,-0.175,-0.2,-0.225,-0.25,-0.275],"labelExpr":"abs(round(datum.value*1000)) % 50 == 0 ? '-' + format(abs(datum.value), '.2f') : ''","tickSize":{"condition":{"test":"abs(round(datum.value*1000)) % 50 == 0","value":-6},"value":-3},"title":"Potential (V vs. Hg/Hg₂SO₄)"}},
"y":{"field":"y","type":"quantitative","scale":{"domain":[0,1.5],"nice":false,"zero":false},"axis":{"orient":"left","values":[0,0.1,0.2,0.3,0.4,0.5,0.6,0.7,0.8,0.9,1,1.1,1.2,1.3,1.4],"labelExpr":"round(datum.value*10) % 2 == 0 ? format(datum.value, '.1f') : ''","tickSize":{"condition":{"test":"round(datum.value*10) % 2 == 0","value":-6},"value":-3},"title":"jᴬᵍ⁺ / j₀ᴬᵍ⁺"}}}},
{"data":{"name":"A"},"transform":[{"filter":"datum.s=='100'"}],"mark":{"type":"line","color":"#1b77c9","strokeWidth":1.6,"strokeDash":[2,2],"clip":true},
"encoding":{"x":{"field":"x","type":"quantitative","scale":{"domain":[-0.28,-0.04],"reverse":true,"nice":false,"zero":false},"axis":{"orient":"top","values":[-0.05,-0.075,-0.1,-0.125,-0.15,-0.175,-0.2,-0.225,-0.25,-0.275],"labels":false,"tickSize":{"condition":{"test":"abs(round(datum.value*1000)) % 50 == 0","value":-6},"value":-3},"title":null}},
"y":{"field":"y","type":"quantitative","scale":{"domain":[0,1.5],"nice":false,"zero":false},"axis":{"orient":"right","values":[0,0.1,0.2,0.3,0.4,0.5,0.6,0.7,0.8,0.9,1,1.1,1.2,1.3,1.4],"labels":false,"tickSize":{"condition":{"test":"round(datum.value*10) % 2 == 0","value":-6},"value":-3},"title":null}}}},
{"data":{"values":[{"x":-0.1175,"y":0.72,"s":"111"},{"x":-0.107,"y":0.47,"s":"100"}]},"mark":{"type":"point","shape":"M0,-1L0,1M-0.87,-0.5L0.87,0.5M-0.87,0.5L0.87,-0.5","filled":false,"strokeWidth":2.2,"size":120,"opacity":1},
"encoding":{"x":{"field":"x","type":"quantitative","axis":null},"y":{"field":"y","type":"quantitative","axis":null},"color":{"condition":{"test":"datum.s=='111'","value":"#f4564c"},"value":"#1c7fe0"}}},
{"data":{"values":[{"x":-0.121,"y":0.85,"s":"111","t":"(111)"},{"x":-0.109,"y":0.32,"s":"100","t":"(100)"}]},"mark":{"type":"text","fontSize":14.5},
"encoding":{"x":{"field":"x","type":"quantitative","axis":null},"y":{"field":"y","type":"quantitative","axis":null},"text":{"field":"t"},"color":{"condition":{"test":"datum.s=='111'","value":"#ef6b63"},"value":"#2a86c8"}}},
{"data":{"values":[{"x":-0.28,"y":1.39,"t":"60 μM Br⁻, Ag⁺"}]},"mark":{"type":"text","fontSize":17.5,"align":"right","dx":-6,"color":"#1a1a1a"},
"encoding":{"x":{"field":"x","type":"quantitative","axis":null},"y":{"field":"y","type":"quantitative","axis":null},"text":{"field":"t"}}}
]},
{"spacing":58,"hconcat":[
{"width":294,"height":235,"title":{"text":"B","dx":-66,"offset":-9},
"resolve":{"axis":{"x":"independent","y":"independent"}},
"layer":[
{"data":{"name":"B"},"transform":[{"filter":"datum.s=='111'"}],"mark":{"type":"line","color":"#ee5b52","strokeWidth":1.1,"clip":true},
"encoding":{"x":{"field":"x","type":"quantitative","scale":{"domain":[-0.28,-0.04],"reverse":true,"nice":false,"zero":false},"axis":{"orient":"bottom","values":[-0.05,-0.075,-0.1,-0.125,-0.15,-0.175,-0.2,-0.225,-0.25,-0.275],"labelExpr":"abs(round(datum.value*1000)) % 50 == 0 ? '-' + format(abs(datum.value), '.2f') : ''","tickSize":{"condition":{"test":"abs(round(datum.value*1000)) % 50 == 0","value":-6},"value":-3},"title":"Potential (V vs. Hg/Hg₂SO₄)"}},
"y":{"field":"y","type":"quantitative","scale":{"domain":[0,1.5],"nice":false,"zero":false},"axis":{"orient":"left","values":[0,0.1,0.2,0.3,0.4,0.5,0.6,0.7,0.8,0.9,1,1.1,1.2,1.3,1.4],"labelExpr":"round(datum.value*10) % 2 == 0 ? format(datum.value, '.1f') : ''","tickSize":{"condition":{"test":"round(datum.value*10) % 2 == 0","value":-6},"value":-3},"title":"jᴬᵍ⁺ / j₀ᴬᵍ⁺"}}}},
{"data":{"name":"B"},"transform":[{"filter":"datum.s=='100'"}],"mark":{"type":"line","color":"#1b77c9","strokeWidth":1.6,"strokeDash":[2,2],"clip":true},
"encoding":{"x":{"field":"x","type":"quantitative","scale":{"domain":[-0.28,-0.04],"reverse":true,"nice":false,"zero":false},"axis":{"orient":"top","values":[-0.05,-0.075,-0.1,-0.125,-0.15,-0.175,-0.2,-0.225,-0.25,-0.275],"labels":false,"tickSize":{"condition":{"test":"abs(round(datum.value*1000)) % 50 == 0","value":-6},"value":-3},"title":null}},
"y":{"field":"y","type":"quantitative","scale":{"domain":[0,1.5],"nice":false,"zero":false},"axis":{"orient":"right","values":[0,0.1,0.2,0.3,0.4,0.5,0.6,0.7,0.8,0.9,1,1.1,1.2,1.3,1.4],"labels":false,"tickSize":{"condition":{"test":"round(datum.value*10) % 2 == 0","value":-6},"value":-3},"title":null}}}},
{"data":{"values":[{"x":-0.068,"y":0.79,"s":"111"},{"x":-0.064,"y":0.8,"s":"100"}]},"mark":{"type":"point","shape":"M0,-1L0,1M-0.87,-0.5L0.87,0.5M-0.87,0.5L0.87,-0.5","filled":false,"strokeWidth":2.2,"size":120,"opacity":1},
"encoding":{"x":{"field":"x","type":"quantitative","axis":null},"y":{"field":"y","type":"quantitative","axis":null},"color":{"condition":{"test":"datum.s=='111'","value":"#f4564c"},"value":"#1c7fe0"}}},
{"data":{"values":[{"x":-0.159,"y":1.05,"s":"111","t":"(111)"},{"x":-0.203,"y":0.7,"s":"100","t":"(100)"}]},"mark":{"type":"text","fontSize":14.5},
"encoding":{"x":{"field":"x","type":"quantitative","axis":null},"y":{"field":"y","type":"quantitative","axis":null},"text":{"field":"t"},"color":{"condition":{"test":"datum.s=='111'","value":"#ef6b63"},"value":"#2a86c8"}}},
{"data":{"values":[{"x":-0.28,"y":1.39,"t":"30 mM PVP, Ag⁺"}]},"mark":{"type":"text","fontSize":17.5,"align":"right","dx":-2,"color":"#1a1a1a"},
"encoding":{"x":{"field":"x","type":"quantitative","axis":null},"y":{"field":"y","type":"quantitative","axis":null},"text":{"field":"t"}}}
]},
{"width":283,"height":235,"title":{"text":"C","dx":-64,"offset":-3},
"resolve":{"axis":{"x":"independent","y":"independent"}},
"layer":[
{"data":{"name":"C"},"transform":[{"filter":"datum.s=='111'"}],"mark":{"type":"line","color":"#ee5b52","strokeWidth":1.1,"clip":true},
"encoding":{"x":{"field":"x","type":"quantitative","scale":{"domain":[-0.274,-0.042],"reverse":true,"nice":false,"zero":false},"axis":{"orient":"bottom","values":[-0.05,-0.075,-0.1,-0.125,-0.15,-0.175,-0.2,-0.225,-0.25],"labelExpr":"abs(round(datum.value*1000)) % 50 == 0 ? '-' + format(abs(datum.value), '.2f') : ''","tickSize":{"condition":{"test":"abs(round(datum.value*1000)) % 50 == 0","value":-6},"value":-3},"title":"Potential (V vs. Hg/Hg₂SO₄)"}},
"y":{"field":"y","type":"quantitative","scale":{"domain":[0,1.5],"nice":false,"zero":false},"axis":{"orient":"left","values":[0,0.1,0.2,0.3,0.4,0.5,0.6,0.7,0.8,0.9,1,1.1,1.2,1.3,1.4],"labelExpr":"round(datum.value*10) % 2 == 0 ? format(datum.value, '.1f') : ''","tickSize":{"condition":{"test":"round(datum.value*10) % 2 == 0","value":-6},"value":-3},"title":"jᴬᵍ⁺ / j₀ᴬᵍ⁺"}}}},
{"data":{"name":"C"},"transform":[{"filter":"datum.s=='100'"}],"mark":{"type":"line","color":"#1b77c9","strokeWidth":1.6,"strokeDash":[2,2],"clip":true},
"encoding":{"x":{"field":"x","type":"quantitative","scale":{"domain":[-0.274,-0.042],"reverse":true,"nice":false,"zero":false},"axis":{"orient":"top","values":[-0.05,-0.075,-0.1,-0.125,-0.15,-0.175,-0.2,-0.225,-0.25],"labels":false,"tickSize":{"condition":{"test":"abs(round(datum.value*1000)) % 50 == 0","value":-6},"value":-3},"title":null}},
"y":{"field":"y","type":"quantitative","scale":{"domain":[0,1.5],"nice":false,"zero":false},"axis":null}}},
{"data":{"values":[{"x":-0.0566,"y":0.32,"s":"111"},{"x":-0.054,"y":0.085,"s":"100"}]},"mark":{"type":"point","shape":"M0,-1L0,1M-0.87,-0.5L0.87,0.5M-0.87,0.5L0.87,-0.5","filled":false,"strokeWidth":2.2,"size":120,"opacity":1},
"encoding":{"x":{"field":"x","type":"quantitative","axis":null},"y":{"field":"y","type":"quantitative","axis":null},"color":{"condition":{"test":"datum.s=='111'","value":"#f4564c"},"value":"#1c7fe0"}}},
{"data":{"values":[{"x":-0.066,"y":0.72,"s":"111","t":"(111)"}]},"mark":{"type":"text","fontSize":14.5,"color":"#ef6b63"},
"encoding":{"x":{"field":"x","type":"quantitative","axis":null},"y":{"field":"y","type":"quantitative","axis":null},"text":{"field":"t"}}},
{"data":{"values":[{"x":-0.063,"y":0.09,"s":"100","t":"(100)"}]},"mark":{"type":"text","fontSize":14.5,"align":"left","color":"#2a86c8"},
"encoding":{"x":{"field":"x","type":"quantitative","axis":null},"y":{"field":"y","type":"quantitative","axis":null},"text":{"field":"t"}}},
{"data":{"values":[{"x":-0.274,"y":1.39,"t":"30 mM PVP + 60 μM Br⁻, Ag⁺"}]},"mark":{"type":"text","fontSize":17,"align":"right","dx":-4,"color":"#1a1a1a"},
"encoding":{"x":{"field":"x","type":"quantitative","axis":null},"y":{"field":"y","type":"quantitative","axis":null},"text":{"field":"t"}}}
]}
]}
]},
{"spacing":48,"hconcat":[
{"width":291,"height":235,"title":{"text":"D","dx":-71,"offset":-15},
"resolve":{"axis":{"x":"independent","y":"independent"}},
"layer":[
{"data":{"name":"D"},"transform":[{"filter":"datum.s=='111'"}],"mark":{"type":"line","color":"#ee5b52","strokeWidth":1.1,"clip":true},
"encoding":{"x":{"field":"x","type":"quantitative","scale":{"domain":[-0.28,-0.04],"reverse":true,"nice":false,"zero":false},"axis":{"orient":"bottom","values":[-0.05,-0.075,-0.1,-0.125,-0.15,-0.175,-0.2,-0.225,-0.25,-0.275],"labelExpr":"abs(round(datum.value*1000)) % 50 == 0 ? '-' + format(abs(datum.value), '.2f') : ''","tickSize":{"condition":{"test":"abs(round(datum.value*1000)) % 50 == 0","value":-6},"value":-3},"title":"Potential (V vs. Hg/Hg₂SO₄)"}},
"y":{"field":"y","type":"quantitative","scale":{"domain":[0,1.5],"nice":false,"zero":false},"axis":{"orient":"left","values":[0,0.1,0.2,0.3,0.4,0.5,0.6,0.7,0.8,0.9,1,1.1,1.2,1.3,1.4],"labelExpr":"round(datum.value*10) % 2 == 0 ? format(datum.value, '.1f') : ''","tickSize":{"condition":{"test":"round(datum.value*10) % 2 == 0","value":-6},"value":-3},"title":"jᴬᴬ / j₀ᴬᴬ"}}}},
{"data":{"name":"D"},"transform":[{"filter":"datum.s=='100'"}],"mark":{"type":"line","color":"#1b77c9","strokeWidth":1.6,"strokeDash":[2,2],"clip":true},
"encoding":{"x":{"field":"x","type":"quantitative","scale":{"domain":[-0.28,-0.04],"reverse":true,"nice":false,"zero":false},"axis":{"orient":"top","values":[-0.05,-0.075,-0.1,-0.125,-0.15,-0.175,-0.2,-0.225,-0.25,-0.275],"labels":false,"tickSize":{"condition":{"test":"abs(round(datum.value*1000)) % 50 == 0","value":-6},"value":-3},"title":null}},
"y":{"field":"y","type":"quantitative","scale":{"domain":[0,1.5],"nice":false,"zero":false},"axis":{"orient":"right","values":[0,0.1,0.2,0.3,0.4,0.5,0.6,0.7,0.8,0.9,1,1.1,1.2,1.3,1.4],"labels":false,"tickSize":{"condition":{"test":"round(datum.value*10) % 2 == 0","value":-6},"value":-3},"title":null}}}},
{"data":{"values":[{"x":-0.116,"y":0.575,"s":"111"},{"x":-0.105,"y":0.33,"s":"100"}]},"mark":{"type":"point","shape":"M0,-1L0,1M-0.87,-0.5L0.87,0.5M-0.87,0.5L0.87,-0.5","filled":false,"strokeWidth":2.2,"size":120,"opacity":1},
"encoding":{"x":{"field":"x","type":"quantitative","axis":null},"y":{"field":"y","type":"quantitative","axis":null},"color":{"condition":{"test":"datum.s=='111'","value":"#f4564c"},"value":"#1c7fe0"}}},
{"data":{"values":[{"x":-0.115,"y":0.685,"s":"111","t":"(111)"},{"x":-0.108,"y":0.175,"s":"100","t":"(100)"}]},"mark":{"type":"text","fontSize":14.5},
"encoding":{"x":{"field":"x","type":"quantitative","axis":null},"y":{"field":"y","type":"quantitative","axis":null},"text":{"field":"t"},"color":{"condition":{"test":"datum.s=='111'","value":"#ef6b63"},"value":"#2a86c8"}}},
{"data":{"values":[{"x":-0.04,"y":1.39,"t":"60 μM Br⁻, AA"}]},"mark":{"type":"text","fontSize":17.5,"align":"left","dx":8,"color":"#1a1a1a"},
"encoding":{"x":{"field":"x","type":"quantitative","axis":null},"y":{"field":"y","type":"quantitative","axis":null},"text":{"field":"t"}}}
]},
{"spacing":55,"hconcat":[
{"width":290,"height":235,"title":{"text":"E","dx":-73,"offset":-19},
"resolve":{"axis":{"x":"independent","y":"independent"}},
"layer":[
{"data":{"name":"E"},"transform":[{"filter":"datum.s=='111'"}],"mark":{"type":"line","color":"#ee5b52","strokeWidth":1.1,"clip":true},
"encoding":{"x":{"field":"x","type":"quantitative","scale":{"domain":[-0.28,-0.043],"reverse":true,"nice":false,"zero":false},"axis":{"orient":"bottom","values":[-0.05,-0.075,-0.1,-0.125,-0.15,-0.175,-0.2,-0.225,-0.25,-0.275],"labelExpr":"abs(round(datum.value*1000)) % 50 == 0 ? '-' + format(abs(datum.value), '.2f') : ''","tickSize":{"condition":{"test":"abs(round(datum.value*1000)) % 50 == 0","value":-6},"value":-3},"title":"Potential (V vs. Hg/Hg₂SO₄)"}},
"y":{"field":"y","type":"quantitative","scale":{"domain":[0,1.5],"nice":false,"zero":false},"axis":{"orient":"left","values":[0,0.1,0.2,0.3,0.4,0.5,0.6,0.7,0.8,0.9,1,1.1,1.2,1.3,1.4],"labelExpr":"round(datum.value*10) % 2 == 0 ? format(datum.value, '.1f') : ''","tickSize":{"condition":{"test":"round(datum.value*10) % 2 == 0","value":-6},"value":-3},"title":"jᴬᴬ / j₀ᴬᴬ"}}}},
{"data":{"name":"E"},"transform":[{"filter":"datum.s=='100'"}],"mark":{"type":"line","color":"#1b77c9","strokeWidth":1.6,"strokeDash":[2,2],"clip":true},
"encoding":{"x":{"field":"x","type":"quantitative","scale":{"domain":[-0.28,-0.043],"reverse":true,"nice":false,"zero":false},"axis":{"orient":"top","values":[-0.05,-0.075,-0.1,-0.125,-0.15,-0.175,-0.2,-0.225,-0.25,-0.275],"labels":false,"tickSize":{"condition":{"test":"abs(round(datum.value*1000)) % 50 == 0","value":-6},"value":-3},"title":null}},
"y":{"field":"y","type":"quantitative","scale":{"domain":[0,1.5],"nice":false,"zero":false},"axis":{"orient":"right","values":[0,0.1,0.2,0.3,0.4,0.5,0.6,0.7,0.8,0.9,1,1.1,1.2,1.3,1.4],"labels":false,"tickSize":{"condition":{"test":"round(datum.value*10) % 2 == 0","value":-6},"value":-3},"title":null}}}},
{"data":{"values":[{"x":-0.066,"y":0.205,"s":"100"},{"x":-0.07,"y":0.2,"s":"111"}]},"mark":{"type":"point","shape":"M0,-1L0,1M-0.87,-0.5L0.87,0.5M-0.87,0.5L0.87,-0.5","filled":false,"strokeWidth":2.2,"size":120,"opacity":1},
"encoding":{"x":{"field":"x","type":"quantitative","axis":null},"y":{"field":"y","type":"quantitative","axis":null},"color":{"condition":{"test":"datum.s=='111'","value":"#f4564c"},"value":"#1c7fe0"}}},
{"data":{"values":[{"x":-0.087,"y":0.09,"s":"111","t":"(111)"},{"x":-0.0675,"y":0.3,"s":"100","t":"(100)"}]},"mark":{"type":"text","fontSize":14.5},
"encoding":{"x":{"field":"x","type":"quantitative","axis":null},"y":{"field":"y","type":"quantitative","axis":null},"text":{"field":"t"},"color":{"condition":{"test":"datum.s=='111'","value":"#ef6b63"},"value":"#2a86c8"}}},
{"data":{"values":[{"x":-0.043,"y":1.39,"t":"30 mM PVP, AA"}]},"mark":{"type":"text","fontSize":17.5,"align":"left","dx":8,"color":"#1a1a1a"},
"encoding":{"x":{"field":"x","type":"quantitative","axis":null},"y":{"field":"y","type":"quantitative","axis":null},"text":{"field":"t"}}}
]},
{"width":283,"height":235,"title":{"text":"F","dx":-65,"offset":-19},
"resolve":{"scale":{"x":"independent","y":"independent"}},
"layer":[
{"resolve":{"axis":{"x":"independent","y":"independent"}},
"layer":[
{"data":{"name":"F"},"transform":[{"filter":"datum.s=='111'"}],"mark":{"type":"line","color":"#ee5b52","strokeWidth":1.1,"clip":true},
"encoding":{"x":{"field":"x","type":"quantitative","scale":{"domain":[-0.274,-0.042],"reverse":true,"nice":false,"zero":false},"axis":{"orient":"bottom","values":[-0.05,-0.075,-0.1,-0.125,-0.15,-0.175,-0.2,-0.225,-0.25],"labelExpr":"abs(round(datum.value*1000)) % 50 == 0 ? '-' + format(abs(datum.value), '.2f') : ''","tickSize":{"condition":{"test":"abs(round(datum.value*1000)) % 50 == 0","value":-6},"value":-3},"title":"Potential (V vs. Hg/Hg₂SO₄)"}},
"y":{"field":"y","type":"quantitative","scale":{"domain":[0,1.5],"nice":false,"zero":false},"axis":{"orient":"left","values":[0,0.1,0.2,0.3,0.4,0.5,0.6,0.7,0.8,0.9,1,1.1,1.2,1.3,1.4],"labelExpr":"round(datum.value*10) % 2 == 0 ? format(datum.value, '.1f') : ''","tickSize":{"condition":{"test":"round(datum.value*10) % 2 == 0","value":-6},"value":-3},"title":"jᴬᴬ / j₀ᴬᴬ"}}}},
{"data":{"name":"F"},"transform":[{"filter":"datum.s=='100'"}],"mark":{"type":"line","color":"#1b77c9","strokeWidth":1.6,"strokeDash":[2,2],"clip":true},
"encoding":{"x":{"field":"x","type":"quantitative","scale":{"domain":[-0.274,-0.042],"reverse":true,"nice":false,"zero":false},"axis":{"orient":"top","values":[-0.05,-0.075,-0.1,-0.125,-0.15,-0.175,-0.2,-0.225,-0.25],"labels":false,"tickSize":{"condition":{"test":"abs(round(datum.value*1000)) % 50 == 0","value":-6},"value":-3},"title":null}},
"y":{"field":"y","type":"quantitative","scale":{"domain":[0,1.5],"nice":false,"zero":false},"axis":null}}},
{"data":{"values":[{"x":-0.042,"x2":-0.1,"y":0,"y2":0.1}]},"mark":{"type":"rect","fillOpacity":0,"stroke":"#222","strokeWidth":1.3},
"encoding":{"x":{"field":"x","type":"quantitative","axis":null},"x2":{"field":"x2"},"y":{"field":"y","type":"quantitative","axis":null},"y2":{"field":"y2"}}},
{"data":{"values":[{"x":-0.078,"y":0.11,"x2":-0.0946,"y2":0.408}]},"mark":{"type":"rule","color":"#222","strokeWidth":1.2},
"encoding":{"x":{"field":"x","type":"quantitative","axis":null},"x2":{"field":"x2"},"y":{"field":"y","type":"quantitative","axis":null},"y2":{"field":"y2"}}},
{"data":{"values":[{"x":-0.0946,"y":0.408}]},"mark":{"type":"point","shape":"triangle-up","angle":24,"size":45,"filled":true,"color":"#222","opacity":1},
"encoding":{"x":{"field":"x","type":"quantitative","axis":null},"y":{"field":"y","type":"quantitative","axis":null}}},
{"data":{"values":[{"x":-0.042,"y":1.39,"t":"30 mM PVP + 60 μM Br⁻, AA"}]},"mark":{"type":"text","fontSize":17.5,"align":"left","dx":8,"color":"#1a1a1a"},
"encoding":{"x":{"field":"x","type":"quantitative","axis":null},"y":{"field":"y","type":"quantitative","axis":null},"text":{"field":"t"}}}
]},
{"layer":[
{"data":{"values":[{"x":-0.044,"x2":-0.1,"y":0,"y2":0.08}]},"mark":{"type":"rect","fill":"white","stroke":"#333","strokeWidth":1},
"encoding":{"x":{"field":"x","type":"quantitative","scale":{"domain":[-0.1246,-0.016],"reverse":true,"nice":false,"zero":false},"axis":null},"x2":{"field":"x2"},"y":{"field":"y","type":"quantitative","scale":{"domain":[-0.0479,0.1128],"nice":false,"zero":false},"axis":null},"y2":{"field":"y2"}}},
{"data":{"name":"F"},"transform":[{"filter":"datum.s=='111' && datum.x <= -0.0441 && datum.x >= -0.1001"}],"mark":{"type":"line","color":"#ee5b52","strokeWidth":1},
"encoding":{"x":{"field":"x","type":"quantitative","scale":{"domain":[-0.1246,-0.016],"reverse":true,"nice":false,"zero":false},"axis":null},"y":{"field":"y","type":"quantitative","scale":{"domain":[-0.0479,0.1128],"nice":false,"zero":false},"axis":null}}},
{"data":{"name":"F"},"transform":[{"filter":"datum.s=='100' && datum.x <= -0.0441 && datum.x >= -0.1001"}],"mark":{"type":"line","color":"#1b77c9","strokeWidth":1.6,"strokeDash":[2,2]},
"encoding":{"x":{"field":"x","type":"quantitative","scale":{"domain":[-0.1246,-0.016],"reverse":true,"nice":false,"zero":false},"axis":null},"y":{"field":"y","type":"quantitative","scale":{"domain":[-0.0479,0.1128],"nice":false,"zero":false},"axis":null}}},
{"data":{"values":[{"x":-0.058,"y":0.0515,"s":"111"},{"x":-0.0558,"y":0.022,"s":"100"}]},"mark":{"type":"point","shape":"M0,-1L0,1M-0.87,-0.5L0.87,0.5M-0.87,0.5L0.87,-0.5","filled":false,"strokeWidth":2.2,"size":120,"opacity":1},
"encoding":{"x":{"field":"x","type":"quantitative","scale":{"domain":[-0.1246,-0.016],"reverse":true,"nice":false,"zero":false},"axis":null},"y":{"field":"y","type":"quantitative","scale":{"domain":[-0.0479,0.1128],"nice":false,"zero":false},"axis":null},"color":{"condition":{"test":"datum.s=='111'","value":"#f4564c"},"value":"#1c7fe0"}}},
{"data":{"values":[{"x":-0.044,"y":0,"t":"0.00"},{"x":-0.044,"y":0.02,"t":"0.02"},{"x":-0.044,"y":0.04,"t":"0.04"},{"x":-0.044,"y":0.06,"t":"0.06"},{"x":-0.044,"y":0.08,"t":"0.08"}]},"mark":{"type":"text","fontSize":8,"align":"right","dx":-3,"color":"#444"},
"encoding":{"x":{"field":"x","type":"quantitative","scale":{"domain":[-0.1246,-0.016],"reverse":true,"nice":false,"zero":false},"axis":null},"y":{"field":"y","type":"quantitative","scale":{"domain":[-0.0479,0.1128],"nice":false,"zero":false},"axis":null},"text":{"field":"t"}}},
{"data":{"values":[{"x":-0.06,"y":0,"t":"-0.06"},{"x":-0.08,"y":0,"t":"-0.08"},{"x":-0.1,"y":0,"t":"-0.10"}]},"mark":{"type":"text","fontSize":8,"baseline":"top","dy":3,"color":"#444"},
"encoding":{"x":{"field":"x","type":"quantitative","scale":{"domain":[-0.1246,-0.016],"reverse":true,"nice":false,"zero":false},"axis":null},"y":{"field":"y","type":"quantitative","scale":{"domain":[-0.0479,0.1128],"nice":false,"zero":false},"axis":null},"text":{"field":"t"}}},
{"data":{"values":[{"x":-0.0533,"y":0},{"x":-0.06,"y":0},{"x":-0.0667,"y":0},{"x":-0.0733,"y":0},{"x":-0.08,"y":0},{"x":-0.0867,"y":0},{"x":-0.0933,"y":0},{"x":-0.0533,"y":0.08},{"x":-0.06,"y":0.08},{"x":-0.0667,"y":0.08},{"x":-0.0733,"y":0.08},{"x":-0.08,"y":0.08},{"x":-0.0867,"y":0.08},{"x":-0.0933,"y":0.08}]},"mark":{"type":"tick","orient":"vertical","size":4,"thickness":0.8,"color":"#444"},
"encoding":{"x":{"field":"x","type":"quantitative","scale":{"domain":[-0.1246,-0.016],"reverse":true,"nice":false,"zero":false},"axis":null},"y":{"field":"y","type":"quantitative","scale":{"domain":[-0.0479,0.1128],"nice":false,"zero":false},"axis":null}}},
{"data":{"values":[{"x":-0.044,"y":0.02},{"x":-0.044,"y":0.04},{"x":-0.044,"y":0.06},{"x":-0.1,"y":0.02},{"x":-0.1,"y":0.04},{"x":-0.1,"y":0.06}]},"mark":{"type":"tick","orient":"horizontal","size":4,"thickness":0.8,"color":"#444"},
"encoding":{"x":{"field":"x","type":"quantitative","scale":{"domain":[-0.1246,-0.016],"reverse":true,"nice":false,"zero":false},"axis":null},"y":{"field":"y","type":"quantitative","scale":{"domain":[-0.0479,0.1128],"nice":false,"zero":false},"axis":null}}}
]}
]}
]}
]}
]
}
